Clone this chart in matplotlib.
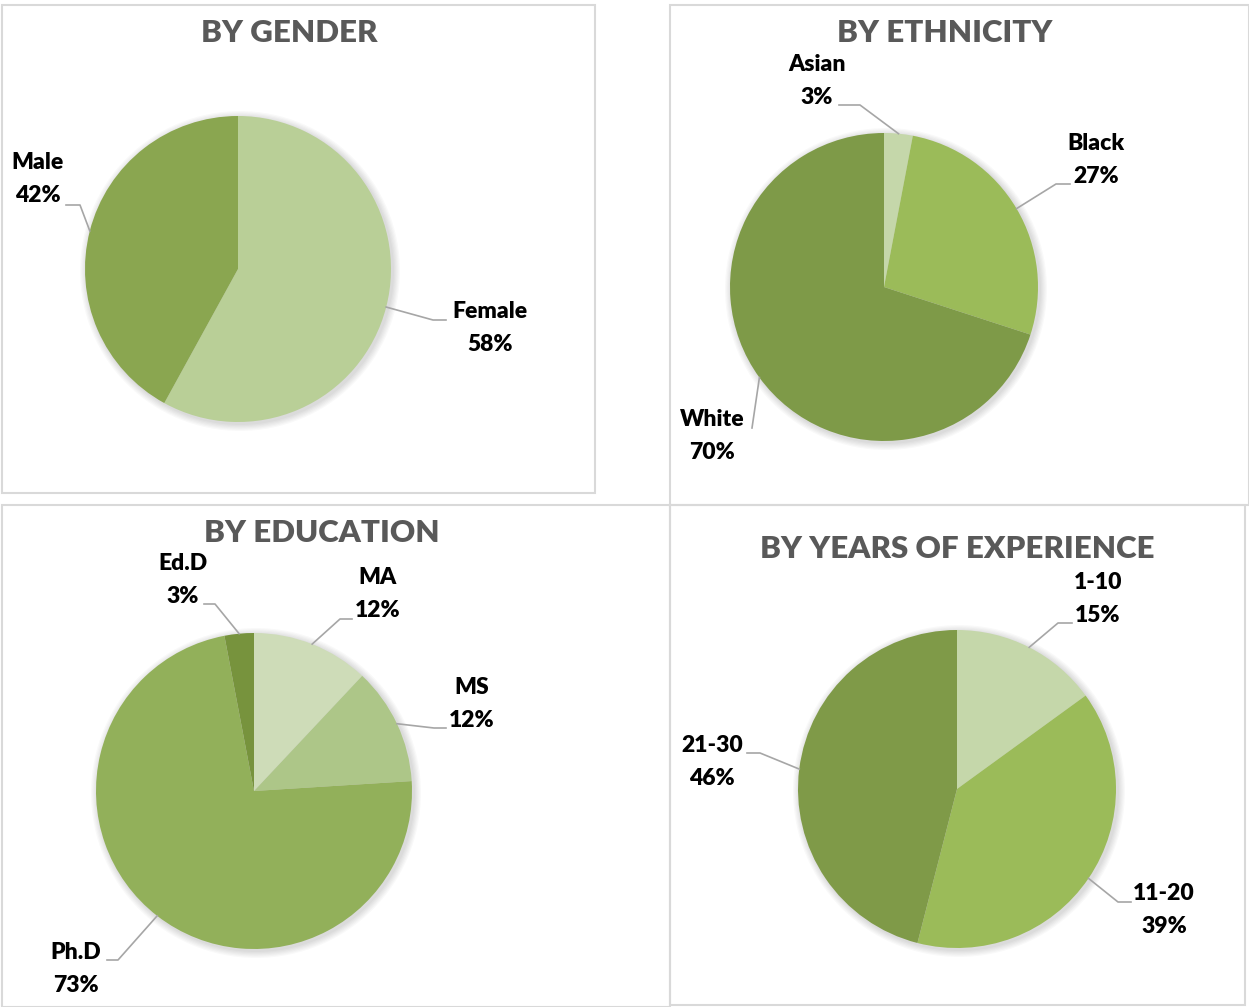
import matplotlib.pyplot as plt
from matplotlib.patches import Rectangle, Circle
import numpy as np

plt.rcParams['font.family'] = ['Lato', 'DejaVu Sans']

# data
gender_labels = ["Female", "Male"]
gender_values = [58, 42]

ethnicity_labels = ["Asian", "Black", "White"]
ethnicity_values = [3, 27, 70]

education_labels = ["MA", "MS", "Ph.D", "Ed.D"]
education_values = [12, 12, 73, 3]

experience_labels = ["1-10", "11-20", "21-30"]
experience_values = [15, 39, 46]

W, H = 1249, 1007
fig = plt.figure(figsize=(W / 100, H / 100), dpi=100)
ax = fig.add_axes([0, 0, 1, 1])


def Y(y):
    # pixel rows count from the top
    return H - y


# panel frames
for x0, y0, x1, y1 in [(2, 5, 595, 493), (670, 5, 1249, 505),
                       (2, 505, 670, 1007), (670, 505, 1245, 1005)]:
    ax.add_patch(Rectangle((x0, Y(y1)), x1 - x0, y1 - y0, fill=False,
                           edgecolor="#d9d9d9", linewidth=1.5, zorder=0))

panels = [
    dict(title="BY GENDER", tpos=(289, 33), center=(238, 269), r=153,
         labels=gender_labels, values=gender_values,
         colors=["#b9cf97", "#8aa650"],
         lpos=[(490, 328), (38, 179)],
         elbow=[(433, 320), (80, 205)], tail=[(446, 320), (66, 205)]),
    dict(title="BY ETHNICITY", tpos=(945, 33), center=(884, 287), r=154,
         labels=ethnicity_labels, values=ethnicity_values,
         colors=["#c5d7aa", "#9bbb59", "#7e9a48"],
         lpos=[(817, 81), (1096, 160), (712, 436)],
         elbow=[(860, 105), (1056, 184), (752, 428)],
         tail=[(839, 105), (1070, 184), (752, 428)]),
    dict(title="BY EDUCATION", tpos=(322, 533), center=(254, 791), r=158,
         labels=education_labels, values=education_values,
         colors=["#cedcb8", "#adc688", "#92b05a", "#77933d"],
         lpos=[(378, 594), (472, 704), (76, 969), (183, 580)],
         elbow=[(340, 619), (434, 728), (118, 960), (215, 604)],
         tail=[(352, 619), (446, 728), (107, 960), (204, 604)]),
    dict(title="BY YEARS OF EXPERIENCE", tpos=(957, 549), center=(957, 789), r=159,
         labels=experience_labels, values=experience_values,
         colors=["#c5d7aa", "#9bbb59", "#7f9a48"],
         lpos=[(1098, 599), (1164, 910), (712, 762)],
         elbow=[(1058, 623), (1118, 902), (760, 753)],
         tail=[(1072, 623), (1131, 902), (747, 753)]),
]

for p in panels:
    cx, cy = p["center"]
    r = p["r"]
    # soft drop shadow under the pie
    for k in range(6):
        ax.add_patch(Circle((cx + 2, Y(cy) - 2), r + 1 + k * 1.2,
                            color="#000000", alpha=0.025, lw=0, zorder=1))
    wedges, _ = ax.pie(p["values"], colors=p["colors"], center=(cx, Y(cy)),
                       radius=r, startangle=90, counterclock=False, frame=True,
                       wedgeprops=dict(linewidth=0, zorder=2))
    for w in wedges:
        w.set_zorder(2)
    ax.text(p["tpos"][0], Y(p["tpos"][1]), p["title"], ha="center", va="center",
            fontsize=22.5, fontweight="heavy", color="#595959")
    for w, lab, val, lp, el, tl in zip(wedges, p["labels"], p["values"],
                                       p["lpos"], p["elbow"], p["tail"]):
        mid = np.deg2rad((w.theta1 + w.theta2) / 2)
        ex, ey = cx + r * np.cos(mid), Y(cy) + r * np.sin(mid)
        ax.plot([ex, el[0], tl[0]], [ey, Y(el[1]), Y(tl[1])],
                color="#a6a6a6", lw=1.2, zorder=3)
        ax.text(lp[0], Y(lp[1]), f"{lab}\n{val}%", ha="center", va="center",
                fontsize=16.5, fontweight="heavy", color="#000000",
                linespacing=1.65, zorder=4)

ax.set_xlim(0, W)
ax.set_ylim(0, H)
ax.set_aspect("auto")
ax.axis("off")

fig.savefig("out.png", dpi=100, facecolor="white")
